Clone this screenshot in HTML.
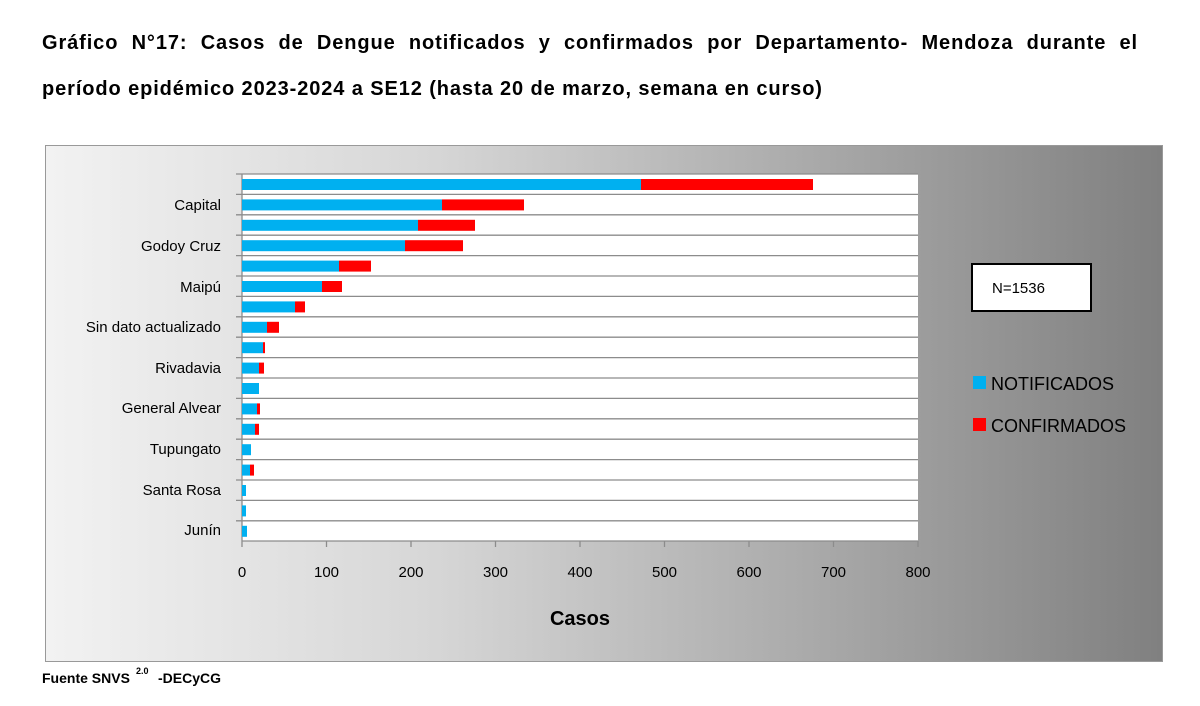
<!DOCTYPE html>
<html><head><meta charset="utf-8"><style>
body{margin:0;width:1200px;height:706px;background:#fff;font-family:"Liberation Sans",sans-serif;position:relative;overflow:hidden}
.t{position:absolute;left:42px;width:1096px;font-weight:bold;font-size:20px;letter-spacing:0.9px;color:#000;white-space:nowrap}
</style></head><body>
<div class="t" style="top:32px;text-align:justify;text-align-last:justify;white-space:normal">Gráfico N°17: Casos de Dengue notificados y confirmados por Departamento- Mendoza durante el</div>
<div class="t" style="top:78px;">período epidémico 2023-2024 a SE12 (hasta 20 de marzo, semana en curso)</div>
<svg width="1200" height="706" style="position:absolute;left:0;top:0" font-family="Liberation Sans, sans-serif">
<defs><linearGradient id="g" x1="0" x2="1" y1="0" y2="0"><stop offset="0" stop-color="#f2f2f2"/><stop offset="0.35" stop-color="#d6d6d6"/><stop offset="1" stop-color="#808080"/></linearGradient></defs>
<rect x="45.5" y="145.5" width="1117" height="516" fill="url(#g)" stroke="#999"/>
<rect x="242" y="174" width="676" height="367" fill="#fff"/>
<g stroke="#8c8c8c" stroke-width="1.3">
<line x1="236" y1="174" x2="918" y2="174"/><line x1="236" y1="194.4" x2="918" y2="194.4"/><line x1="236" y1="214.8" x2="918" y2="214.8"/><line x1="236" y1="235.2" x2="918" y2="235.2"/><line x1="236" y1="255.6" x2="918" y2="255.6"/><line x1="236" y1="276" x2="918" y2="276"/><line x1="236" y1="296.4" x2="918" y2="296.4"/><line x1="236" y1="316.8" x2="918" y2="316.8"/><line x1="236" y1="337.2" x2="918" y2="337.2"/><line x1="236" y1="357.6" x2="918" y2="357.6"/><line x1="236" y1="378" x2="918" y2="378"/><line x1="236" y1="398.4" x2="918" y2="398.4"/><line x1="236" y1="418.8" x2="918" y2="418.8"/><line x1="236" y1="439.2" x2="918" y2="439.2"/><line x1="236" y1="459.6" x2="918" y2="459.6"/><line x1="236" y1="480" x2="918" y2="480"/><line x1="236" y1="500.4" x2="918" y2="500.4"/><line x1="236" y1="520.8" x2="918" y2="520.8"/><line x1="242" y1="541" x2="918" y2="541"/>
<line x1="242" y1="174" x2="242" y2="547"/>
<line x1="326.5" y1="541" x2="326.5" y2="547"/><line x1="411" y1="541" x2="411" y2="547"/><line x1="495.5" y1="541" x2="495.5" y2="547"/><line x1="580" y1="541" x2="580" y2="547"/><line x1="664.5" y1="541" x2="664.5" y2="547"/><line x1="749" y1="541" x2="749" y2="547"/><line x1="833.5" y1="541" x2="833.5" y2="547"/><line x1="918" y1="541" x2="918" y2="547"/>
</g>
<g fill="#00b0f0">
<rect x="242" y="179" width="399" height="11"/><rect x="242" y="199.4" width="200" height="11"/><rect x="242" y="219.8" width="176" height="11"/><rect x="242" y="240.2" width="163" height="11"/><rect x="242" y="260.6" width="97" height="11"/><rect x="242" y="281" width="80" height="11"/><rect x="242" y="301.4" width="53" height="11"/><rect x="242" y="321.8" width="25" height="11"/><rect x="242" y="342.2" width="21" height="11"/><rect x="242" y="362.6" width="17" height="11"/><rect x="242" y="383" width="17" height="11"/><rect x="242" y="403.4" width="15" height="11"/><rect x="242" y="423.8" width="13" height="11"/><rect x="242" y="444.2" width="9" height="11"/><rect x="242" y="464.6" width="8" height="11"/><rect x="242" y="485" width="4" height="11"/><rect x="242" y="505.4" width="4" height="11"/><rect x="242" y="525.8" width="5" height="11"/>
</g>
<g fill="#ff0000">
<rect x="641" y="179" width="172" height="11"/><rect x="442" y="199.4" width="82" height="11"/><rect x="418" y="219.8" width="57" height="11"/><rect x="405" y="240.2" width="58" height="11"/><rect x="339" y="260.6" width="32" height="11"/><rect x="322" y="281" width="20" height="11"/><rect x="295" y="301.4" width="10" height="11"/><rect x="267" y="321.8" width="12" height="11"/><rect x="263" y="342.2" width="2" height="11"/><rect x="259" y="362.6" width="5" height="11"/><rect x="257" y="403.4" width="3" height="11"/><rect x="255" y="423.8" width="4" height="11"/><rect x="250" y="464.6" width="4" height="11"/>
</g>
<g font-size="15" text-anchor="end" fill="#000">
<text x="221" y="210">Capital</text><text x="221" y="251">Godoy Cruz</text><text x="221" y="292">Maipú</text><text x="221" y="332">Sin dato actualizado</text><text x="221" y="373">Rivadavia</text><text x="221" y="413">General Alvear</text><text x="221" y="454">Tupungato</text><text x="221" y="495">Santa Rosa</text><text x="221" y="535">Junín</text>
</g>
<g font-size="15" text-anchor="middle" fill="#000">
<text x="242" y="577">0</text><text x="326.5" y="577">100</text><text x="411" y="577">200</text><text x="495.5" y="577">300</text><text x="580" y="577">400</text><text x="664.5" y="577">500</text><text x="749" y="577">600</text><text x="833.5" y="577">700</text><text x="918" y="577">800</text>
</g>
<text x="580" y="625" font-size="20" font-weight="bold" text-anchor="middle">Casos</text>
<rect x="972" y="264" width="119" height="47" fill="#fff" stroke="#000" stroke-width="2"/>
<text x="992" y="293" font-size="15">N=1536</text>
<rect x="973" y="376" width="13" height="13" fill="#00b0f0"/>
<text x="991" y="390" font-size="18">NOTIFICADOS</text>
<rect x="973" y="418" width="13" height="13" fill="#ff0000"/>
<text x="991" y="432" font-size="18">CONFIRMADOS</text>
<text x="42" y="683" font-size="14" font-weight="bold">Fuente SNVS</text>
<text x="136" y="674" font-size="9" font-weight="bold">2.0</text>
<text x="158" y="683" font-size="14" font-weight="bold">-DECyCG</text>
</svg>
</body></html>
